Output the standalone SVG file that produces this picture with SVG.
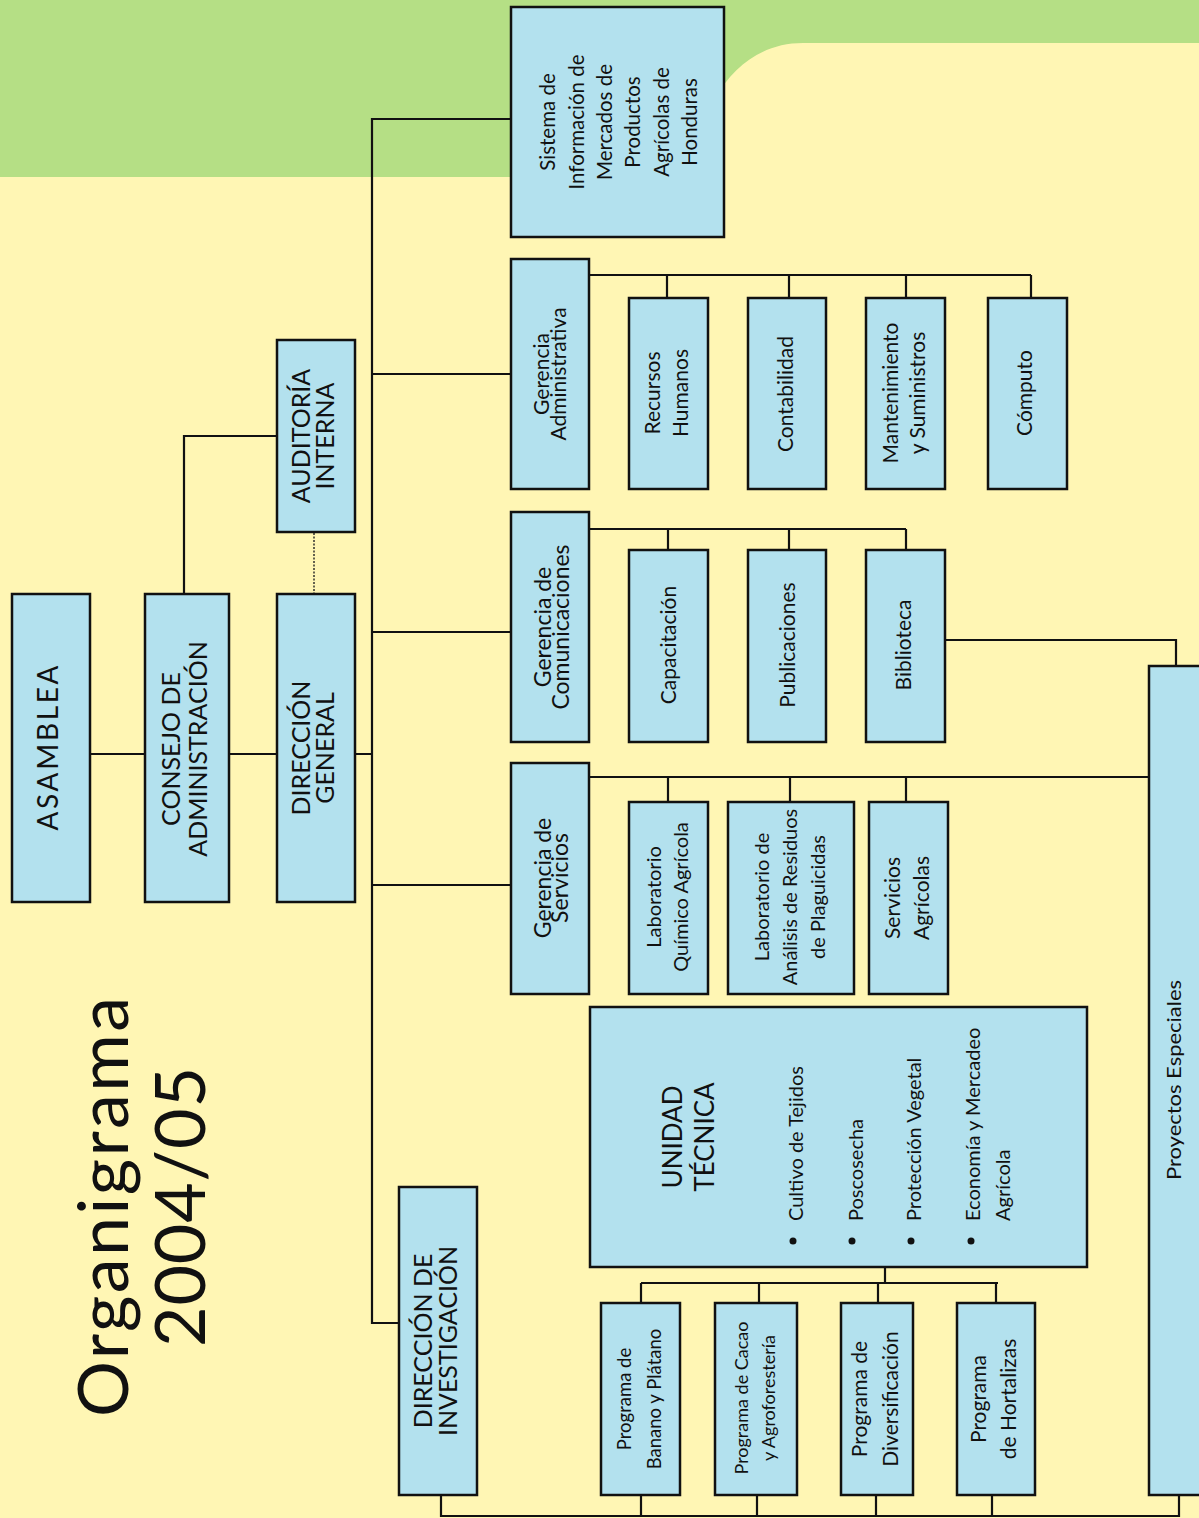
<svg xmlns="http://www.w3.org/2000/svg" width="1199" height="1518" viewBox="0 0 1199 1518">
<style>
.node rect{fill:#B3E1EE;stroke:#111;stroke-width:2.5}
.conn path{fill:none;stroke:#111;stroke-width:2.2}
.conn .dot{stroke-width:1.4;stroke-dasharray:2 1.5;stroke:#222}
text{font-family:Lato,"Open Sans","Liberation Sans",sans-serif;fill:#111;text-anchor:middle}
.up{font-size:25px}
.g{font-size:23px}
.s{font-size:21px}
.b{font-size:20px;text-anchor:start}
</style>
<rect x="0" y="0" width="1199" height="1518" fill="#FFF6B4"/>
<path d="M0,0 H1199 V43 H803 C740,43 700,100 690,177 H0 Z" fill="#B5DF85"/>

<g id="title">
<text transform="rotate(-90)" x="-1207" y="128" font-size="70" textLength="420" lengthAdjust="spacing">Organigrama</text>
<text transform="rotate(-90)" x="-1207" y="205" font-size="70" textLength="280" lengthAdjust="spacing">2004/05</text>
</g>

<g class="conn" id="connectors">
<path d="M90,754 H145 M229,754 H277 M355,754 H372"/>
<path d="M184,594 V436 H277"/>
<path class="dot" d="M314,533 V594"/>
<path d="M511,119 H372 V1323 H399 M372,374 H511 M372,632 H511 M372,885 H511"/>
<path d="M589,275 H1031 M667,275 V298 M789,275 V298 M906,275 V298 M1031,275 V298"/>
<path d="M589,529 H906 M668,529 V550 M789,529 V550 M906,529 V550"/>
<path d="M945,640 H1176 V666"/>
<path d="M589,777 H1149 M668,777 V802 M790,777 V802 M906,777 V802"/>
<path d="M885,1267 V1283 M641,1283 H998 M641,1283 V1303 M759,1283 V1303 M878,1283 V1303 M996,1283 V1303"/>
<path d="M441,1495 V1516 H1179 V1495 M641,1495 V1516 M757,1495 V1516 M876,1495 V1516 M992,1495 V1516"/>
</g>

<g class="node" id="asamblea"><rect x="12" y="594" width="78" height="308"/>
<text transform="rotate(-90)" x="-748" y="58" font-size="28" textLength="165" lengthAdjust="spacing">ASAMBLEA</text></g>

<g class="node" id="consejo"><rect x="145" y="594" width="84" height="308"/>
<text transform="rotate(-90)" class="up"><tspan x="-749" y="180">CONSEJO DE</tspan><tspan x="-749" y="207">ADMINISTRACIÓN</tspan></text></g>

<g class="node" id="direccion-general"><rect x="277" y="594" width="78" height="308"/>
<text transform="rotate(-90)" class="up"><tspan x="-748" y="310">DIRECCIÓN</tspan><tspan x="-748" y="334">GENERAL</tspan></text></g>

<g class="node" id="auditoria"><rect x="277" y="340" width="78" height="192"/>
<text transform="rotate(-90)" class="up"><tspan x="-436" y="310">AUDITORÍA</tspan><tspan x="-436" y="334">INTERNA</tspan></text></g>

<g class="node" id="direccion-investigacion"><rect x="399" y="1187" width="78" height="308"/>
<text transform="rotate(-90)" class="up"><tspan x="-1341" y="432">DIRECCIÓN DE</tspan><tspan x="-1341" y="457">INVESTIGACIÓN</tspan></text></g>

<g class="node" id="sim"><rect x="511" y="7" width="213" height="230"/>
<text transform="rotate(-90)" font-size="20.5"><tspan x="-122" y="555">Sistema de</tspan><tspan x="-122" y="584">Información de</tspan><tspan x="-122" y="612">Mercados de</tspan><tspan x="-122" y="640">Productos</tspan><tspan x="-122" y="669">Agrícolas de</tspan><tspan x="-122" y="697">Honduras</tspan></text></g>

<g class="node" id="gerencia-administrativa"><rect x="511" y="259" width="78" height="230"/>
<text transform="rotate(-90)" font-size="21"><tspan x="-374" y="549">Gerencia</tspan><tspan x="-374" y="566">Administrativa</tspan></text></g>
<g class="node" id="recursos-humanos"><rect x="629" y="298" width="79" height="191"/>
<text transform="rotate(-90)" class="s"><tspan x="-393" y="660">Recursos</tspan><tspan x="-393" y="688">Humanos</tspan></text></g>
<g class="node" id="contabilidad"><rect x="748" y="298" width="78" height="191"/>
<text transform="rotate(-90)" class="s" x="-394" y="793">Contabilidad</text></g>
<g class="node" id="mantenimiento"><rect x="866" y="298" width="79" height="191"/>
<text transform="rotate(-90)" class="s"><tspan x="-393" y="898">Mantenimiento</tspan><tspan x="-393" y="925">y Suministros</tspan></text></g>
<g class="node" id="computo"><rect x="988" y="298" width="79" height="191"/>
<text transform="rotate(-90)" class="s" x="-393" y="1032">Cómputo</text></g>

<g class="node" id="gerencia-comunicaciones"><rect x="511" y="512" width="78" height="230"/>
<text transform="rotate(-90)" class="g"><tspan x="-627" y="551">Gerencia de</tspan><tspan x="-627" y="569">Comunicaciones</tspan></text></g>
<g class="node" id="capacitacion"><rect x="629" y="550" width="79" height="192"/>
<text transform="rotate(-90)" class="s" x="-645" y="676">Capacitación</text></g>
<g class="node" id="publicaciones"><rect x="748" y="550" width="78" height="192"/>
<text transform="rotate(-90)" class="s" x="-645" y="795">Publicaciones</text></g>
<g class="node" id="biblioteca"><rect x="866" y="550" width="79" height="192"/>
<text transform="rotate(-90)" class="s" x="-645" y="911">Biblioteca</text></g>

<g class="node" id="gerencia-servicios"><rect x="511" y="763" width="78" height="231"/>
<text transform="rotate(-90)" class="g"><tspan x="-878" y="551">Gerencia de</tspan><tspan x="-878" y="568">Servicios</tspan></text></g>
<g class="node" id="lab-quimico"><rect x="629" y="802" width="79" height="192"/>
<text transform="rotate(-90)" font-size="20"><tspan x="-897" y="661">Laboratorio</tspan><tspan x="-897" y="688">Químico Agrícola</tspan></text></g>
<g class="node" id="lab-residuos"><rect x="728" y="802" width="126" height="192"/>
<text transform="rotate(-90)" font-size="20"><tspan x="-897" y="769">Laboratorio de</tspan><tspan x="-897" y="797">Análisis de Residuos</tspan><tspan x="-897" y="825">de Plaguicidas</tspan></text></g>
<g class="node" id="servicios-agricolas"><rect x="869" y="802" width="79" height="192"/>
<text transform="rotate(-90)" class="s"><tspan x="-898" y="900">Servicios</tspan><tspan x="-898" y="929">Agrícolas</tspan></text></g>

<g class="node" id="unidad-tecnica"><rect x="590" y="1007" width="497" height="260"/>
<text transform="rotate(-90)" font-size="26"><tspan x="-1137" y="682">UNIDAD</tspan><tspan x="-1137" y="714">TÉCNICA</tspan></text>
<text transform="rotate(-90)" class="b"><tspan x="-1221" y="803">Cultivo de Tejidos</tspan><tspan x="-1221" y="863">Poscosecha</tspan><tspan x="-1221" y="921">Protección Vegetal</tspan><tspan x="-1221" y="980">Economía y Mercadeo</tspan><tspan x="-1221" y="1010">Agrícola</tspan></text>
<g fill="#111"><circle cx="793" cy="1241" r="3.5"/><circle cx="852" cy="1241" r="3.5"/><circle cx="911" cy="1241" r="3.5"/><circle cx="971" cy="1241" r="3.5"/></g></g>

<g class="node" id="prog-banano"><rect x="601" y="1303" width="79" height="192"/>
<text transform="rotate(-90)" font-size="18.5"><tspan x="-1399" y="631">Programa de</tspan><tspan x="-1399" y="661">Banano y Plátano</tspan></text></g>
<g class="node" id="prog-cacao"><rect x="715" y="1303" width="82" height="192"/>
<text transform="rotate(-90)" font-size="18"><tspan x="-1398" y="748">Programa de Cacao</tspan><tspan x="-1398" y="775">y Agroforestería</tspan></text></g>
<g class="node" id="prog-diversificacion"><rect x="841" y="1303" width="72" height="192"/>
<text transform="rotate(-90)" font-size="21"><tspan x="-1399" y="867">Programa de</tspan><tspan x="-1399" y="898">Diversificación</tspan></text></g>
<g class="node" id="prog-hortalizas"><rect x="957" y="1303" width="78" height="192"/>
<text transform="rotate(-90)" font-size="21"><tspan x="-1399" y="986">Programa</tspan><tspan x="-1399" y="1016">de Hortalizas</tspan></text></g>

<g class="node" id="proyectos-especiales"><rect x="1149" y="666" width="64" height="829"/>
<text transform="rotate(-90)" x="-1080" y="1181" font-size="20" textLength="200" lengthAdjust="spacingAndGlyphs">Proyectos Especiales</text></g>
</svg>
